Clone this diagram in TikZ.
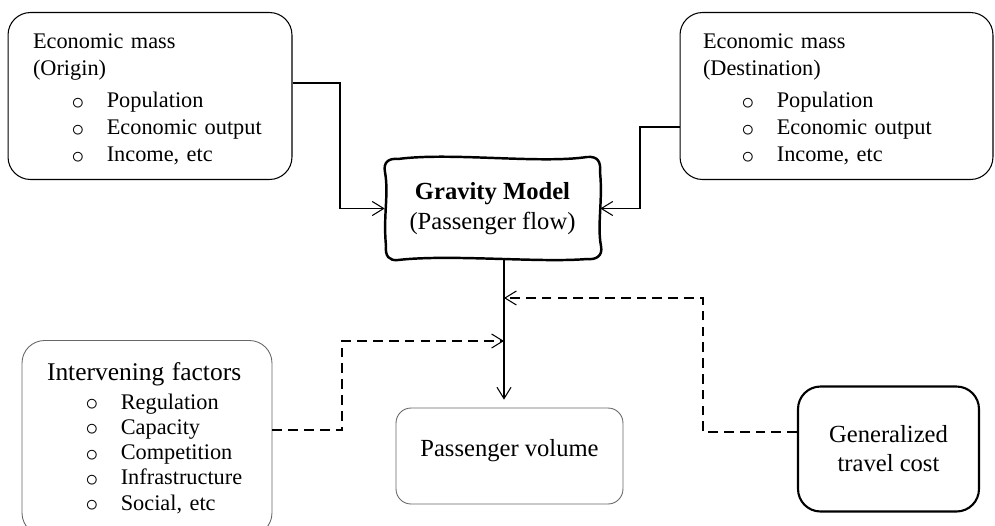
\documentclass[tikz,border=0pt]{standalone}
\usepackage{fontspec}
\setmainfont{Liberation Serif}
\usetikzlibrary{arrows.meta, positioning}

% list item with an open bullet
\newcommand{\bul}[1]{\makebox[42pt][l]{\hspace*{22pt}\raisebox{-0.15ex}{\scalebox{1.2}{$\circ$}}}#1}

\begin{document}
\begin{tikzpicture}[x=0.02cm, y=-0.02cm,
    >={Straight Barb[length=6.5pt, width=8pt]},
    listbox/.style={draw, line width=0.6pt, rounded corners=0.45cm, align=left,
        inner xsep=0.5cm, inner ysep=0pt, font=\fontsize{12.7}{15.4}\selectfont},
    plainbox/.style={draw, rounded corners=0.3cm, align=center,
        font=\fontsize{14}{16.5}\selectfont},
    wavy/.style={line width=1.4pt},
    link/.style={->, line width=0.6pt},
    dashlink/.style={->, line width=0.6pt, dash pattern=on 5.5pt off 3.5pt}]

    \useasboundingbox (0,0) rectangle (995,525);

    % =================================================================
    % 1. BOXES
    % =================================================================
    \node[listbox, minimum width=5.68cm, minimum height=3.34cm, text width=4.68cm]
        (orig) at (150,96)
        {\rule{0pt}{12pt}Economic mass\\(Origin)\\[3pt]\bul{Population}\\\bul{Economic output}\\\bul{Income, etc}};
    \node[listbox, minimum width=6.26cm, minimum height=3.34cm, text width=5.34cm,
        inner xsep=0.46cm]
        (dest) at (836.5,96)
        {\rule{0pt}{12pt}Economic mass\\(Destination)\\[3pt]\bul{Population}\\\bul{Economic output}\\\bul{Income, etc}};

    % Gravity model, hand-drawn outline
    \node[align=center, font=\fontsize{14}{17}\selectfont,
        minimum width=4.3cm, minimum height=2.06cm]
        (grav) at (492.5,208.5) {\textbf{Gravity Model}\\(Passenger flow)};
    \draw[wavy] (398,159) .. controls (450,152) and (540,164) .. (587,157)
        .. controls (598,156) and (601,162) .. (600,172)
        .. controls (603,200) and (597,225) .. (601,246)
        .. controls (603,256) and (596,260) .. (587,259)
        .. controls (540,263) and (450,254) .. (398,260)
        .. controls (389,261) and (385,256) .. (386,246)
        .. controls (383,215) and (389,195) .. (385,172)
        .. controls (383,162) and (389,158) .. (398,159) -- cycle;

    \node[listbox, draw=black!60, line width=0.5pt, minimum width=5cm, minimum height=3.9cm,
        text width=4cm, font=\fontsize{12.7}{14.4}\selectfont]
        (interv) at (147,438)
        {{\fontsize{14.5}{14.4}\selectfont Intervening factors}\\[2pt]\bul{Regulation}\\\bul{Capacity}\\\bul{Competition}\\\bul{Infrastructure}\\\bul{Social, etc}};

    \node[plainbox, draw=black!60, line width=0.5pt, minimum width=4.54cm, minimum height=1.92cm]
        (vol) at (509.5,456) {\rule[-9pt]{0pt}{9pt}Passenger volume};
    \node[plainbox, line width=1.2pt, rounded corners=0.45cm,
        minimum width=3.62cm, minimum height=2.5cm]
        (gen) at (888.5,449) {Generalized\\travel cost};

    % =================================================================
    % 2. CONNECTORS
    % =================================================================
    \coordinate (bendO) at (340,83);
    \coordinate (bendD) at (640,127);
    \coordinate (trunk) at (504,0);
    \coordinate (bendI) at (342,430);
    \coordinate (hitI) at (504,341);
    \coordinate (bendG) at (703,432);
    \coordinate (hitG) at (504,298);

    \draw[link] (orig.east |- bendO) -- (bendO) |- (grav.west);
    \draw[link] (dest.west |- bendD) -- (bendD) |- (grav.east);
    \draw[link, shorten >=4.5pt] (grav.south -| trunk) -- (vol.north -| trunk);

    \draw[dashlink] (interv.east |- bendI) -- (bendI) |- (hitI);
    \draw[dashlink] (gen.west |- bendG) -- (bendG) |- (hitG);

\end{tikzpicture}
\end{document}
